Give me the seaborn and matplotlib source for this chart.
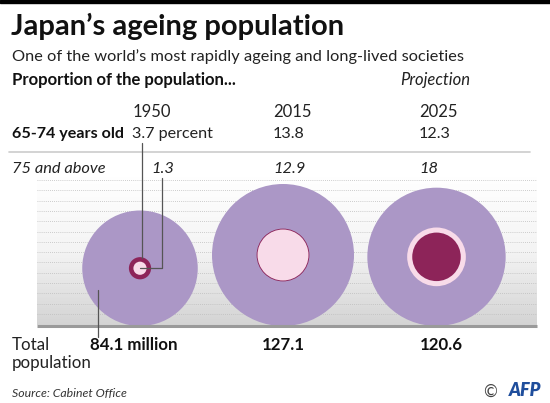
import numpy as np
import pandas as pd
import seaborn as sns
import matplotlib.pyplot as plt
from matplotlib.colors import LinearSegmentedColormap

# Data
years = ['1950', '2015', '2025']
pct_65_74 = [3.7, 13.8, 12.3]
pct_75_plus = [1.3, 12.9, 18]
total_pop = [84.1, 127.1, 120.6]
pop_labels = ['84.1 million', '127.1', '120.6']
pct_65_labels = ['3.7 percent', '13.8', '12.3']
pct_75_labels = ['1.3', '12.9', '18']

# Colours
PURPLE = '#ab97c6'
DARK = '#8d2459'
PINK = '#f8dbe9'
LINE = '#555555'

sns.set_theme(style='white')
plt.rcParams['font.family'] = ['Lato', 'DejaVu Sans']

DPI = 100
W, H = 550, 403
fig = plt.figure(figsize=(W / DPI, H / DPI), dpi=DPI)
ax = fig.add_axes([0, 0, 1, 1])
ax.set_xlim(0, W)
ax.set_ylim(H, 0)
ax.axis('off')

# top black bar
ax.axhspan(0, 3, color='black')

# header
ax.text(11, 26, 'Japan\u2019s ageing population', fontsize=21, fontweight='bold',
        va='center', ha='left', color='#111111')
ax.text(12, 57, 'One of the world\u2019s most rapidly ageing and long-lived societies',
        fontsize=11.8, va='center', ha='left', color='#222222')
ax.text(12, 80, 'Proportion of the population...', fontsize=12, fontweight='bold',
        va='center', ha='left', color='#111111')
ax.text(400, 80, 'Projection', fontsize=12, style='italic', va='center', ha='left',
        color='#222222')

# column text positions (left edges) and circle centres
col_x = [132.5, 273, 419]
x75 = [151.5, 273, 419]
pop_x = [90.5, 261.5, 420]
circ_x = [140, 283, 436.5]

for i, yr in enumerate(years):
    ax.text(col_x[i], 112, yr, fontsize=12, va='center', ha='left', color='#222222')
    ax.text(col_x[i], 134, pct_65_labels[i], fontsize=11.6, va='center', ha='left',
            color='#222222')
    ax.text(x75[i], 169, pct_75_labels[i], fontsize=11.8, style='italic', va='center',
            ha='left', color='#222222')
    ax.text(pop_x[i], 345, pop_labels[i], fontsize=12.2, fontweight='bold',
            va='center', ha='left', color='#111111')

ax.text(12, 134, '65-74 years old', fontsize=11.6, fontweight='bold', va='center',
        ha='left', color='#111111')
ax.text(12, 169, '75 and above', fontsize=11.8, style='italic', va='center', ha='left',
        color='#222222')
ax.plot([9, 530], [152, 152], color='#cccccc', lw=1.2)

# panel background: gradient with dotted lines
panel_l, panel_r, panel_t, panel_b = 37, 537, 176, 325
grad = np.linspace(0, 1, 100).reshape(-1, 1)
cmap = LinearSegmentedColormap.from_list('bg', ['#ffffff', '#f4f4f4', '#d4d4d4'])
ax.imshow(grad, cmap=cmap, aspect='auto',
          extent=[panel_l, panel_r, panel_b, panel_t], zorder=0)
for yy in np.arange(180, 323, 10.3):
    ax.plot([panel_l, panel_r], [yy, yy], color='#bdbdbd', lw=0.6,
            linestyle=(0, (1, 1.5)), zorder=1)
ax.set_xlim(0, W)
ax.set_ylim(H, 0)

# circles: area proportional to population, inner circles by share
k = 71 / np.sqrt(127.1)
base = 326
rows = []
for i in range(len(years)):
    R = k * np.sqrt(total_pop[i])
    cy = base - R
    rows.append(dict(x=circ_x[i], y=cy, r=R, kind='total'))
    rows.append(dict(x=circ_x[i], y=cy, r=R * np.sqrt(pct_65_74[i] / 100), kind='65-74'))
    rows.append(dict(x=circ_x[i], y=cy, r=R * np.sqrt(pct_75_plus[i] / 100), kind='75+'))
circles = pd.DataFrame(rows).sort_values('r', ascending=False).reset_index(drop=True)
circles['s'] = (2 * circles['r'] * 72 / DPI) ** 2

sns.scatterplot(data=circles, x='x', y='y', hue='kind',
                palette={'total': PURPLE, '65-74': DARK, '75+': PINK},
                s=circles['s'].values, linewidth=0, legend=False, ax=ax, zorder=2)

# bottom line
ax.plot([panel_l, panel_r], [325.5, 325.5], color='#9a9a9a', lw=2.2, zorder=3,
        solid_capstyle='butt')

# leader lines for 1950
c0 = circles[(circles['x'] == circ_x[0]) & (circles['kind'] == '65-74')].iloc[0]
ax.plot([141.7, 141.7], [143, c0['y'] - c0['r'] + 1], color=LINE, lw=0.9, zorder=4)
ax.plot([161.5, 161.5, c0['x']], [178, c0['y'], c0['y']], color=LINE, lw=0.9, zorder=4)
ax.plot([97.5, 97.5], [290, 337], color=LINE, lw=0.9, zorder=4)

# bottom labels
ax.text(12, 345, 'Total', fontsize=12.2, va='center', ha='left', color='#222222')
ax.text(12, 363, 'population', fontsize=12.2, va='center', ha='left', color='#222222')
ax.text(12, 394, 'Source: Cabinet Office', fontsize=8.8, style='italic', va='center',
        ha='left', color='#333333')
ax.text(497, 392, '\u00a9', fontsize=12, va='center', ha='right', color='#444444')
ax.text(541, 391, 'AFP', fontsize=13, fontweight='heavy', style='italic', va='center',
        ha='right', color='#1f4e9c')

fig.savefig('out.png', dpi=DPI)
